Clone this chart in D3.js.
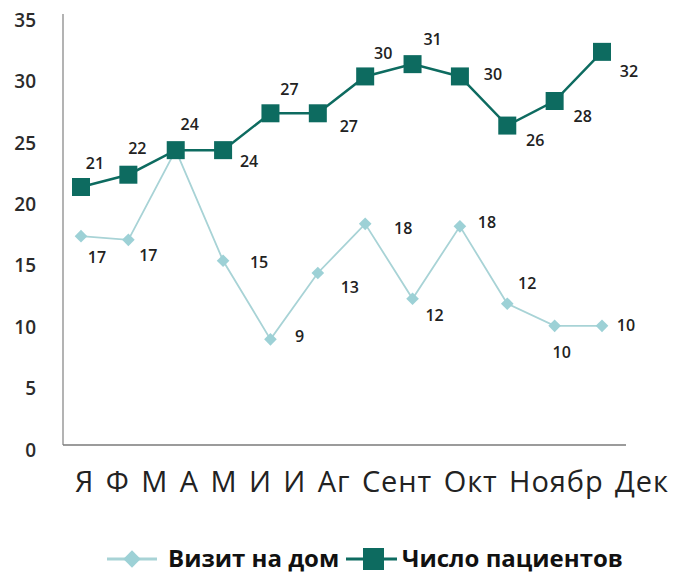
<!DOCTYPE html>
<html>
<head>
<meta charset="utf-8">
<script src="https://cdn.jsdelivr.net/npm/d3@7"></script>
<style>
  body { margin: 0; background: #fff; }
  svg { display: block; }
</style>
</head>
<body>
<div id="chart"></div>
<script>
const months = ["Я", "Ф", "М", "А", "М", "И", "И", "Аг", "Сент", "Окт", "Ноябр", "Дек"];
const patients = [21, 22, 24, 24, 27, 27, 30, 31, 30, 26, 28, 32];
const visits = [17, 16.7, 24, 15, 8.6, 14, 18, 11.9, 17.8, 11.5, 9.7, 9.7];
const visitLabels = ["17", "17", "", "15", "9", "13", "18", "12", "18", "12", "10", "10"];
const yTicks = [0, 5, 10, 15, 20, 25, 30, 35];
const seriesNames = ["Визит на дом", "Число пациентов"];

// label offsets from each point
const patientOffsets = [[14, -24], [9, -26], [14, -26], [26, 11], [19, -24], [31, 13],
  [18, -23], [20, -25], [33, -2], [28, 15], [28, 15], [27, 20]];
const visitOffsets = [[16, 21], [20, 16], [0, 0], [36, 2], [29, -3], [32, 14],
  [38, 5], [22, 17], [27, -4], [20, -20], [7, 27], [24, 0]];

const width = 674, height = 573;
const dark = "#0d6b60", light = "#9dd1d6", lightLine = "#a8d3d6";

const svg = d3.select("#chart").append("svg")
  .attr("width", width)
  .attr("height", height);

const x = d3.scalePoint()
  .domain(d3.range(months.length))
  .range([81, 602]);

const y = d3.scaleLinear()
  .domain([0, 35])
  .range([445, 15]);

// axes lines
svg.append("line")
  .attr("x1", 63).attr("x2", 63)
  .attr("y1", 14).attr("y2", 445)
  .attr("stroke", "#9a9a9a").attr("stroke-width", 1.5);
svg.append("line")
  .attr("x1", 63).attr("x2", 626)
  .attr("y1", 445).attr("y2", 445)
  .attr("stroke", "#7a7a7a").attr("stroke-width", 1.5);

svg.selectAll(".ytick")
  .data(yTicks)
  .enter()
  .append("text")
  .attr("class", "ytick")
  .attr("x", 36)
  .attr("y", (d) => y(d) + 5)
  .attr("dy", "0.35em")
  .attr("text-anchor", "end")
  .style("font-family", "Open Sans")
  .style("font-weight", 600)
  .style("font-size", "19px")
  .style("fill", "#2b2b2b")
  .text((d) => d);

// x labels set as one running line, like the original
svg.append("text")
  .attr("x", 75)
  .attr("y", 492)
  .attr("textLength", 593)
  .attr("lengthAdjust", "spacing")
  .style("font-family", "Open Sans")
  .style("font-size", "29px")
  .style("word-spacing", "3px")
  .style("fill", "#222")
  .text(months.join(" "));

const line = d3.line()
  .x((d, i) => x(i))
  .y((d) => y(d));

svg.append("path")
  .datum(visits)
  .attr("d", line)
  .attr("fill", "none")
  .attr("stroke", lightLine)
  .attr("stroke-width", 1.8);

svg.append("path")
  .datum(patients)
  .attr("d", line)
  .attr("fill", "none")
  .attr("stroke", dark)
  .attr("stroke-width", 2.5);

const diamond = d3.symbol().type(d3.symbolSquare).size(80);

svg.selectAll(".visit")
  .data(visits)
  .enter()
  .append("path")
  .attr("class", "visit")
  .attr("d", diamond)
  .attr("transform", (d, i) => "translate(" + x(i) + "," + y(d) + ") rotate(45)")
  .attr("fill", light);

const sq = 18;
svg.selectAll(".patient")
  .data(patients)
  .enter()
  .append("rect")
  .attr("class", "patient")
  .attr("x", (d, i) => x(i) - sq / 2)
  .attr("y", (d) => y(d) - sq / 2)
  .attr("width", sq)
  .attr("height", sq)
  .attr("fill", dark);

const labelStyle = (sel) => sel
  .attr("text-anchor", "middle")
  .attr("dy", "0.35em")
  .style("font-family", "Open Sans")
  .style("font-weight", 600)
  .style("font-size", "16px")
  .style("fill", "#222");

svg.selectAll(".plabel")
  .data(patients)
  .enter()
  .append("text")
  .attr("class", "plabel")
  .attr("x", (d, i) => x(i) + patientOffsets[i][0])
  .attr("y", (d) => y(d))
  .attr("transform", (d, i) => "translate(0," + patientOffsets[i][1] + ")")
  .call(labelStyle)
  .text((d) => d);

svg.selectAll(".vlabel")
  .data(visits)
  .enter()
  .append("text")
  .attr("class", "vlabel")
  .attr("x", (d, i) => x(i) + visitOffsets[i][0])
  .attr("y", (d) => y(d))
  .attr("transform", (d, i) => "translate(0," + visitOffsets[i][1] + ")")
  .call(labelStyle)
  .text((d, i) => visitLabels[i]);

// legend
const legend = svg.append("g").attr("transform", "translate(0,559)");

legend.append("line")
  .attr("x1", 107).attr("x2", 157)
  .attr("stroke", lightLine).attr("stroke-width", 3);
legend.append("path")
  .attr("d", d3.symbol().type(d3.symbolSquare).size(150))
  .attr("transform", "translate(132,0) rotate(45)")
  .attr("fill", light);
legend.append("text")
  .attr("x", 168)
  .attr("dy", "0.35em")
  .style("font-family", "Open Sans")
  .style("font-weight", 700)
  .style("font-size", "24px")
  .style("fill", "#111")
  .text(seriesNames[0]);

legend.append("line")
  .attr("x1", 346).attr("x2", 397)
  .attr("stroke", dark).attr("stroke-width", 3);
legend.append("rect")
  .attr("x", 363).attr("y", -11)
  .attr("width", 21).attr("height", 22)
  .attr("fill", dark);
legend.append("text")
  .attr("x", 402)
  .attr("dy", "0.35em")
  .style("font-family", "Open Sans")
  .style("font-weight", 700)
  .style("font-size", "24px")
  .style("fill", "#111")
  .text(seriesNames[1]);
</script>
</body>
</html>
